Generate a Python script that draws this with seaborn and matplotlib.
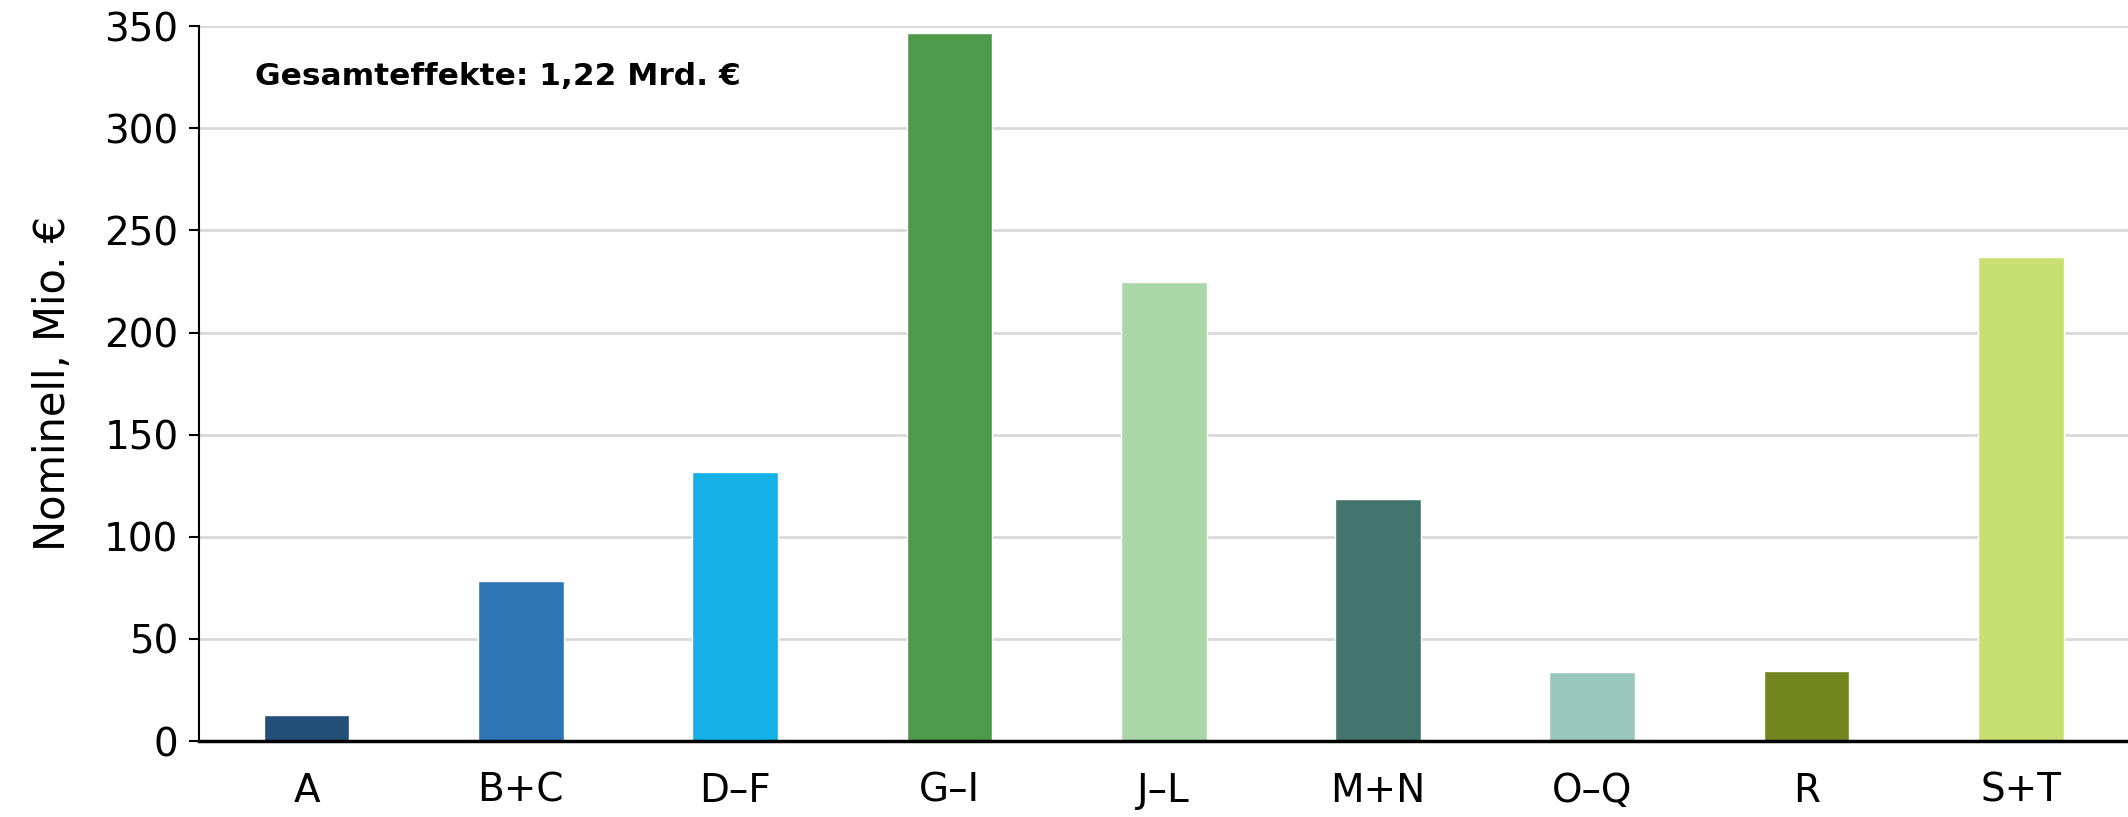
import matplotlib
matplotlib.use("Agg")
import matplotlib.pyplot as plt
import seaborn as sns
import pandas as pd

# Werte je Wirtschaftsbereich (Mio. €)
categories = ["A", "B+C", "D–F", "G–I", "J–L", "M+N", "O–Q", "R", "S+T"]
values = [12.8, 78.4, 131.6, 346.5, 224.5, 118.3, 33.9, 34.5, 237.0]
bar_colors = ["#214F78", "#2E75B6", "#14B0E6", "#4E9A4A", "#ABD7A8",
              "#41756D", "#9AC7BC", "#71861F", "#C8E072"]
y_ticks = [0, 50, 100, 150, 200, 250, 300, 350]
y_label = "Nominell, Mio. €"
note = "Gesamteffekte: 1,22 Mrd. €"

df = pd.DataFrame({"Bereich": categories, "Wert": values})

sns.set_theme(style="white")
plt.rcParams["font.family"] = ["DejaVu Sans"]
plt.rcParams["text.color"] = "black"
plt.rcParams["axes.labelcolor"] = "black"
plt.rcParams["xtick.color"] = "black"
plt.rcParams["ytick.color"] = "black"

fig = plt.figure(figsize=(21.28, 8.17), dpi=100)
ax = fig.add_axes([0.0937, 0.093, 0.9063, 0.875])

sns.barplot(data=df, x="Bereich", y="Wert", hue="Bereich",
            palette=bar_colors, width=0.4, legend=False, saturation=1, ax=ax)

ax.set_ylim(0, 350)
ax.set_xlim(-0.5, len(categories) - 0.5)
ax.set_yticks(y_ticks)
ax.yaxis.grid(True, color="#d9d9d9", linewidth=2)
ax.set_axisbelow(True)

for s in ["top", "right"]:
    ax.spines[s].set_visible(False)
ax.spines["left"].set_color("black")
ax.spines["left"].set_linewidth(1.5)
ax.spines["bottom"].set_color("black")
ax.spines["bottom"].set_linewidth(2.5)

ax.tick_params(axis="y", which="major", length=7, width=1.5, color="black",
               labelsize=28, pad=8, left=True)
ax.tick_params(axis="x", length=0, labelsize=28, pad=22)
ax.set_xlabel("")
ax.set_ylabel(y_label, fontsize=30, labelpad=22)

ax.text(0.029, 0.93, note, transform=ax.transAxes, fontsize=22.5,
        fontweight="bold", ha="left", va="center", color="black")

fig.savefig("out.png", dpi=100)
